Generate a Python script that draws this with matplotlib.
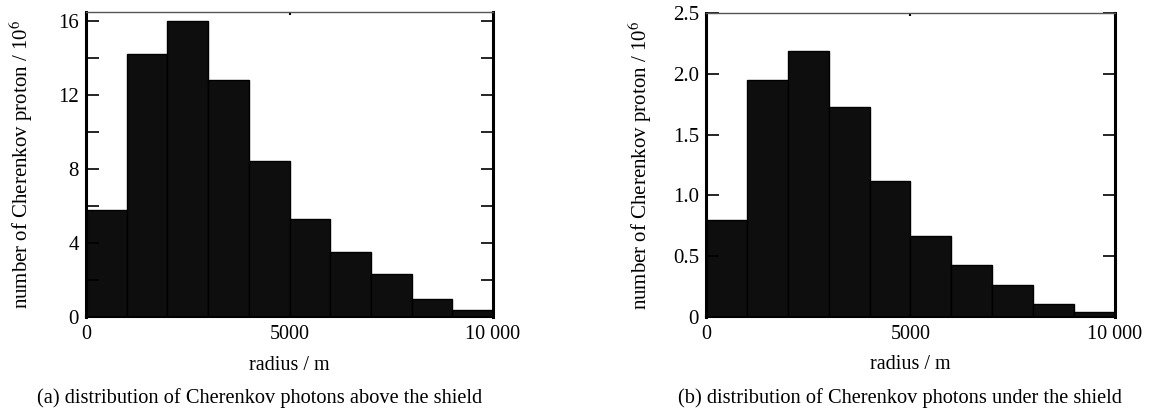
import matplotlib.pyplot as plt
import numpy as np

plt.rcParams['font.family'] = ['Liberation Serif', 'DejaVu Serif']
plt.rcParams['mathtext.fontset'] = 'stix'

# bin left edges (m), 1000 m wide
bin_left = [0, 1000, 2000, 3000, 4000, 5000, 6000, 7000, 8000, 9000]
bin_width = 1000

# photons above the shield (10^6)
above = [5.8, 14.25, 16.0, 12.8, 8.45, 5.3, 3.5, 2.3, 0.95, 0.38]
# photons under the shield (10^6)
under = [0.80, 1.95, 2.19, 1.73, 1.12, 0.67, 0.43, 0.26, 0.11, 0.04]

xticks = [0, 5000, 10000]
xticklabels = ['0', '5000', '10 000']

yticks_a = [0, 4, 8, 12, 16]
yticks_a_minor = [2, 6, 10, 14]
yticks_b = [0, 0.5, 1.0, 1.5, 2.0, 2.5]
yticklabels_b = ['0', '0.5', '1.0', '1.5', '2.0', '2.5']

W, H = 1172, 416
fig = plt.figure(figsize=(W / 100, H / 100), dpi=100)

ax_a = fig.add_axes([86 / W, 99 / H, 407 / W, 305 / H])
ax_b = fig.add_axes([706 / W, 99 / H, 409 / W, 304 / H])


def style(ax):
    ax.set_xlim(0, 10000)
    ax.set_xticks(xticks)
    ax.set_xticklabels(xticklabels, fontsize=14.5)
    ax.tick_params(axis='x', direction='in', top=True, length=2, width=1.5, pad=6)
    ax.tick_params(axis='y', which='both', direction='in', right=True,
                   length=9, width=1.2, labelsize=15, pad=5)
    ax.spines['left'].set_linewidth(2.2)
    ax.spines['right'].set_linewidth(2.2)
    ax.spines['bottom'].set_linewidth(1.5)
    ax.spines['top'].set_linewidth(1.0)
    ax.spines['top'].set_color('#555555')
    ax.set_xlabel('radius / m', fontsize=14.5, va='center')
    ax.xaxis.set_label_coords(0.5, -48 / 305)
    ax.set_ylabel('number of Cherenkov proton / 10$^{6}$', fontsize=15, va='center')
    ax.yaxis.set_label_coords(-65 / 407, 0.5)


ax_a.bar(bin_left, above, width=bin_width, align='edge',
         facecolor='#0e0e0e', edgecolor='#000000', linewidth=1.0)
style(ax_a)
ax_a.set_ylim(0, 16.5)
ax_a.set_yticks(yticks_a)
ax_a.set_yticks(yticks_a_minor, minor=True)

ax_b.bar(bin_left, under, width=bin_width, align='edge',
         facecolor='#0e0e0e', edgecolor='#000000', linewidth=1.0)
style(ax_b)
ax_b.set_ylim(0, 2.5)
ax_b.set_yticks(yticks_b)
ax_b.set_yticklabels(yticklabels_b)

fig.text(260 / W, 18 / H, '(a) distribution of Cherenkov photons above the shield',
         ha='center', va='center', fontsize=14.7)
fig.text(900 / W, 18 / H, '(b) distribution of Cherenkov photons under the shield',
         ha='center', va='center', fontsize=14.7)

fig.savefig('out.png', dpi=100)
